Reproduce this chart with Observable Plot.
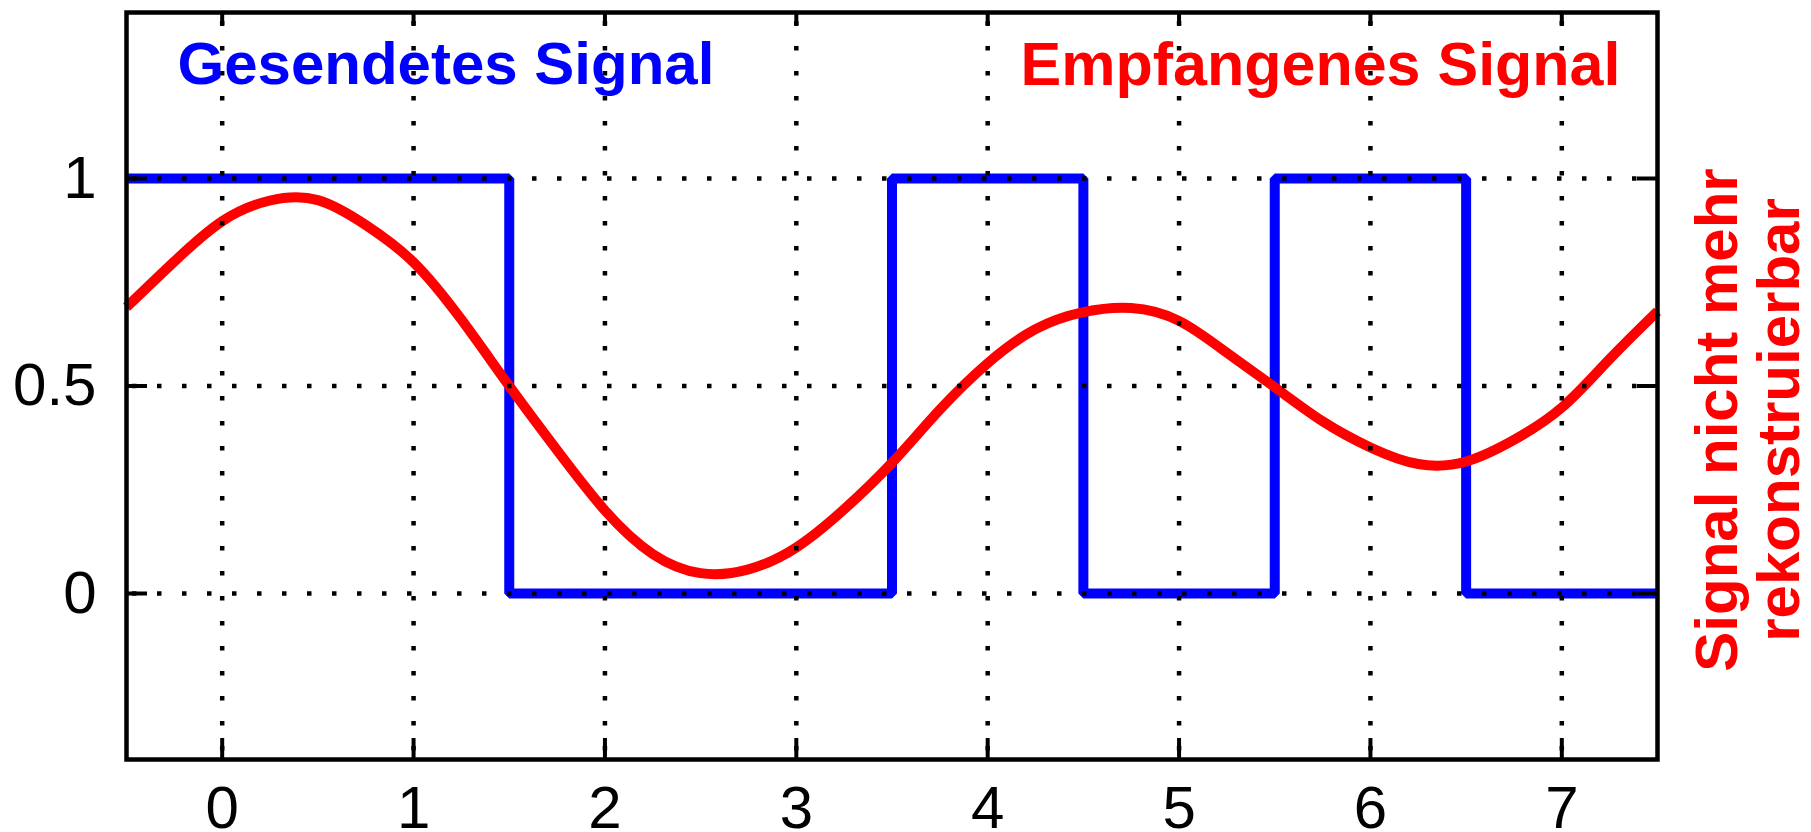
<!DOCTYPE html>
<html>
<head>
<meta charset="utf-8">
<script src="https://cdn.jsdelivr.net/npm/d3@7"></script>
<script src="https://cdn.jsdelivr.net/npm/@observablehq/plot@0.6"></script>
<style>
  html, body { margin: 0; padding: 0; background: #fff; }
  #chart { width: 1811px; height: 832px; }
</style>
</head>
<body>
<div id="chart"></div>
<script>
// ---- data ----
const symbols = [0, 1, 2, 3, 4, 5, 6, 7];
const sentBits = [1, 1, 0, 0, 1, 0, 1, 0];

const receivedX = [-0.5, -0.25, 0, 0.25, 0.5, 0.75, 1, 1.25, 1.5, 1.75, 2, 2.25, 2.5, 2.75, 3, 3.25, 3.5, 3.75, 4, 4.25, 4.5, 4.75, 5, 5.25, 5.5, 5.75, 6, 6.25, 6.5, 6.75, 7, 7.25, 7.5];
const receivedY = [0.69, 0.80, 0.897, 0.947, 0.948, 0.888, 0.798, 0.66, 0.50, 0.345, 0.20, 0.095, 0.049, 0.058, 0.111, 0.203, 0.315, 0.443, 0.555, 0.637, 0.678, 0.688, 0.657, 0.58, 0.497, 0.415, 0.352, 0.312, 0.318, 0.37, 0.448, 0.565, 0.68];

const xTicks = [0, 1, 2, 3, 4, 5, 6, 7];
const yTicks = [0, 0.5, 1];
const xDomain = [-0.5, 7.5];
const yDomain = [-0.4, 1.4];

const sentLabel = "Gesendetes Signal";
const receivedLabel = "Empfangenes Signal";
const sideNote = "Signal nicht mehr\nrekonstruierbar";

// ---- derived tables ----
const sentData = [
  {x: xDomain[0], y: sentBits[0]},
  ...symbols.map((s, i) => ({x: s, y: sentBits[i]})),
  {x: xDomain[1], y: sentBits[sentBits.length - 1]}
];
const receivedData = receivedX.map((x, i) => ({x, y: receivedY[i]}));

const BLUE = "#0000ff";
const RED = "#ff0000";
const FONT = "'Liberation Sans', Arial, Helvetica, sans-serif";

const chart = Plot.plot({
  width: 1811,
  height: 832,
  marginLeft: 126,
  marginRight: 154,
  marginTop: 12,
  marginBottom: 73,
  style: {fontFamily: FONT, background: "#fff", color: "#000", overflow: "visible"},
  x: {domain: xDomain},
  y: {domain: yDomain},
  marks: [
    Plot.line(sentData, {x: "x", y: "y", curve: "step", stroke: BLUE, strokeWidth: 10, strokeLinejoin: "miter", strokeLinecap: "butt"}),
    Plot.line(receivedData, {x: "x", y: "y", curve: "natural", stroke: RED, strokeWidth: 10, strokeLinecap: "butt"}),
    Plot.gridX(xTicks, {stroke: "#000", strokeOpacity: 1, strokeWidth: 4.5, strokeDasharray: "4.5,20.5", strokeDashoffset: 16}),
    Plot.gridY(yTicks, {stroke: "#000", strokeOpacity: 1, strokeWidth: 4.5, strokeDasharray: "4.5,20.5", strokeDashoffset: 19}),
    Plot.frame({stroke: "#000", strokeWidth: 4.5}),
    // inward ticks on all four sides
    Plot.axisX(xTicks, {anchor: "bottom", tickSize: 21, dy: -21, fill: "none", stroke: "#000", strokeWidth: 4, label: null}),
    Plot.axisX(xTicks, {anchor: "top", tickSize: 13, dy: 13, fill: "none", stroke: "#000", strokeWidth: 4, label: null}),
    Plot.axisY(yTicks, {anchor: "left", tickSize: 21, dx: 21, fill: "none", stroke: "#000", strokeWidth: 4, label: null}),
    Plot.axisY(yTicks, {anchor: "right", tickSize: 21, dx: -21, fill: "none", stroke: "#000", strokeWidth: 4, label: null}),
    // tick labels
    Plot.axisX(xTicks, {anchor: "bottom", tickSize: 0, tickPadding: 26, fontSize: 60, label: null, fill: "#000", tickFormat: d => String(d)}),
    Plot.axisY(yTicks, {anchor: "left", tickSize: 0, tickPadding: 30, fontSize: 60, label: null, fill: "#000", tickFormat: d => String(d)}),
    // annotations
    Plot.text([sentLabel], {text: d => d, frameAnchor: "top-left", dx: 51, dy: 29, lineAnchor: "top", textAnchor: "start", fill: BLUE, fontSize: 60, fontWeight: "bold"}),
    Plot.text([receivedLabel], {text: d => d, frameAnchor: "top-right", dx: -37, dy: 29, lineAnchor: "top", textAnchor: "end", fill: RED, fontSize: 61, fontWeight: "bold"}),
    Plot.text([sideNote], {text: d => d, frameAnchor: "right", dx: 91, dy: 34, rotate: -90, lineAnchor: "middle", textAnchor: "middle", lineHeight: 1.03, fill: RED, fontSize: 60, fontWeight: "bold"})
  ]
});

document.getElementById("chart").appendChild(chart);
</script>
</body>
</html>
